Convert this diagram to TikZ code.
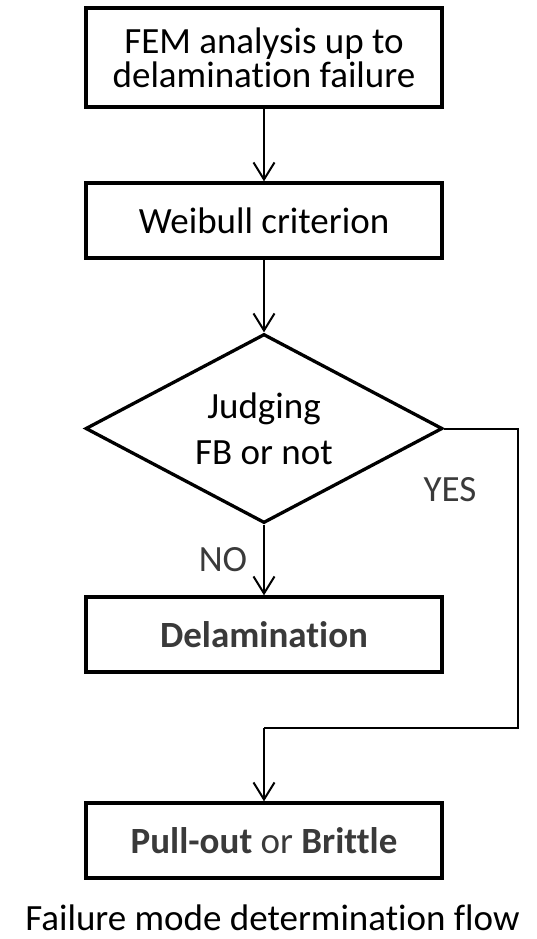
\documentclass[tikz,border=0pt]{standalone}
\usepackage{fontspec}
\setmainfont{Carlito}[Ligatures=NoCommon]
\usetikzlibrary{shapes.geometric,arrows.meta}
\definecolor{txtgray}{HTML}{3A3A3A}
\begin{document}
\begin{tikzpicture}[x=1pt,y=-1pt,
  boxnode/.style={draw=black,line width=3.3pt,minimum width=356pt,inner sep=0pt,align=center,font=\fontsize{37}{34}\selectfont},
  conn/.style={line width=2pt,-{Straight Barb[length=17pt,width=21pt,line width=2pt]}},
  lbl/.style={text=txtgray,font=\fontsize{37}{38}\selectfont}]
\useasboundingbox (0,0) rectangle (536,939);
\node[boxnode,minimum height=99pt] (fem) at (264,57.5) {FEM analysis up to\\delamination failure};
\node[boxnode,minimum height=75pt] (weib) at (264,220.5) {Weibull criterion};
\node[draw=black,line width=3.3pt,diamond,inner sep=0pt,minimum width=357pt,minimum height=189pt] (judge) at (264,428.5) {};
\node[align=center,inner sep=0pt,font=\fontsize{37}{46}\selectfont] (judgetxt) at (judge.center) {Judging\\FB or not};
\node[boxnode,minimum height=75pt,text=txtgray] (delam) at (264,634.5) {\bfseries Delamination};
\node[boxnode,minimum height=75pt,text=txtgray] (pull) at (264,840.5) {\bfseries Pull-out \mdseries or \bfseries Brittle};
\node[font=\fontsize{37}{38}\selectfont,anchor=base,inner sep=0pt] (cap) at (272.5,930) {Failure mode determination flow};
\node[lbl] (yes) at (450,490) {YES};
\node[lbl] (no) at (223,560) {NO};
\coordinate (c1) at (518,428.5);
\coordinate (c2) at (518,728);
\coordinate (c3) at (264,728);
\draw[conn] (fem) -- (weib);
\draw[conn] (weib) -- (judge);
\draw[conn] (judge) -- (delam);
\draw[line width=2pt] (judge.east) -- (c1) -- (c2) -- (c3);
\draw[conn] (c3) -- (pull);
\end{tikzpicture}
\end{document}
